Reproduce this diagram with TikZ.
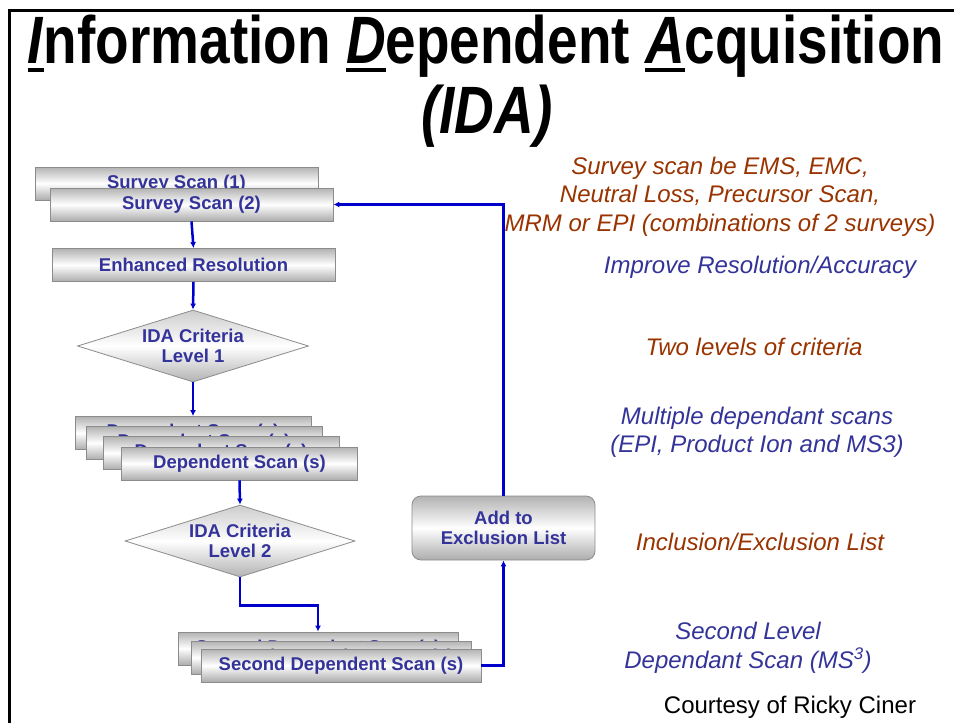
\documentclass[tikz,border=0pt]{standalone}
\usepackage{fontspec}
\setmainfont{Liberation Sans}
\usepackage{graphicx}
\usetikzlibrary{shapes.geometric,arrows.meta}
\definecolor{boxblue}{HTML}{333399}
\definecolor{notered}{HTML}{993300}
\definecolor{flowblue}{HTML}{0000CC}
\definecolor{edgegray}{HTML}{8C8C8C}
\newsavebox\ulbox
\newcommand{\ulit}[1]{\sbox\ulbox{\textit{#1}}\rlap{\rule[-9pt]{\wd\ulbox}{4.5pt}}\usebox\ulbox}

\begin{document}
\begin{tikzpicture}[x=1pt,y=-1pt,
    scanbox/.style={draw=edgegray, line width=0.8pt, top color=gray!60, bottom color=gray!65, middle color=white,
      text=boxblue, font=\fontsize{18.5}{20}\selectfont\bfseries, minimum width=283pt, minimum height=33pt, inner sep=0pt},
    critbox/.style={diamond, draw=edgegray, line width=0.8pt, top color=gray!40, bottom color=gray!60, middle color=white,
      text=boxblue, font=\fontsize{18.5}{20}\selectfont\bfseries, align=center, aspect=3.2, inner sep=0pt,
      minimum width=231pt, minimum height=72pt},
    flow/.style={draw=flowblue, line width=2.5pt, -{Latex[length=6pt,width=6pt]}},
    note/.style={font=\fontsize{24}{28.5}\selectfont\itshape, align=center}]
  \useasboundingbox (0,0) rectangle (954,723);
  % slide frame
  \draw[line width=3pt] (9,723) -- (9,10) -- (954,10);

  % title
  \node[anchor=base, font=\fontsize{67}{70}\selectfont\bfseries] (title) at (486,63)
    {\scalebox{0.82}[1]{\ulit{I}nformation \ulit{D}ependent \ulit{A}cquisition}};
  \node[anchor=base, font=\fontsize{67}{70}\selectfont\bfseries\itshape] (ida) at (487,133)
    {\scalebox{0.82}[1]{(IDA)}};

  % flow chart
  \node[scanbox] (survey1) at (176.5,183.5) {Survey Scan (1)};
  \node[scanbox] (survey2) at (191.5,204.5) {Survey Scan (2)};
  \node[scanbox] (enh) at (193.5,265) {Enhanced Resolution};
  \node[critbox] (crit1) at (193,346) {IDA Criteria\\Level 1};
  \node[scanbox, minimum width=236pt] (dep1) at (193,433) {Dependent Scan (s)};
  \node[scanbox, minimum width=236pt] (dep2) at (204,443) {Dependent Scan (s)};
  \node[scanbox, minimum width=236pt] (dep3) at (221,453) {Dependent Scan (s)};
  \node[scanbox, minimum width=236pt] (dep4) at (239.5,463.5) {Dependent Scan (s)};
  \node[critbox, minimum width=230pt] (crit2) at (240,541) {IDA Criteria\\Level 2};
  \node[scanbox, minimum width=280pt] (sec1) at (318,648.5) {Second Dependent Scan (s)};
  \node[scanbox, minimum width=280pt] (sec2) at (331,657.5) {Second Dependent Scan (s)};
  \node[scanbox, minimum width=280pt] (sec3) at (341,665.5) {Second Dependent Scan (s)};
  \node[scanbox, rounded corners=9pt, align=center, minimum width=183pt, minimum height=64pt] (excl) at (503.5,528)
    {Add to\\Exclusion List};

  \draw[flow] (survey2.south) -- (enh.north);
  \draw[flow] (enh.south) -- (crit1.north);
  \draw[flow] (crit1.south) -- (dep1.north);
  \draw[flow] (dep4.south) -- (crit2.north);
  \draw[flow] (crit2.south) -- ++(0,28) -| (sec1.north);
  \draw[flow] (sec3.east) -| (excl.south);
  \draw[flow] (excl.north) |- (survey2.east);

  % notes
  \node[note, text=notered] (surveynote) at (720,196.5)
    {Survey scan be EMS, EMC,\\Neutral Loss, Precursor Scan,\\MRM or EPI (combinations of 2 surveys)};
  \node[note, text=boxblue] (resnote) at (760,267) {Improve Resolution/Accuracy};
  \node[note, text=notered] (critnote) at (754,347) {Two levels of criteria};
  \node[note, text=boxblue] (depnote) at (757,432.5) {Multiple dependant scans\\(EPI, Product Ion and MS3)};
  \node[note, text=notered] (listnote) at (760,542) {Inclusion/Exclusion List};
  \node[note, text=boxblue] (secnote) at (748,648) {Second Level\\Dependant Scan (MS\textsuperscript{3})};
  \node[font=\fontsize{24}{28.5}\selectfont] (credit) at (790,707) {Courtesy of Ricky Ciner};
\end{tikzpicture}
\end{document}
